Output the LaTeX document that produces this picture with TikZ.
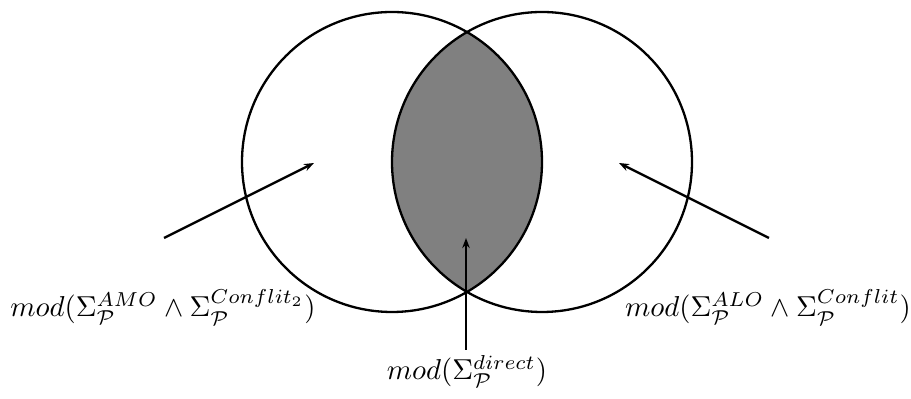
\documentclass[tikz,border=0pt]{standalone}
\usepackage{amsmath, amssymb}
\usetikzlibrary{arrows.meta}
\begin{document}
\begin{tikzpicture}[x=0.0122cm, y=-0.0122cm, thick,
    pointer/.style={-{Stealth[length=3.5pt,width=2.6pt]}}]
        \useasboundingbox (0,0) rectangle (911,399);
        % Shaded intersection
        \begin{scope}
          \clip (392,162) circle (150);
          \fill[gray] (542,162) circle (150);
        \end{scope}
        \draw (392,162) circle (150);
        \draw (542,162) circle (150);

        % Labels
        \node[anchor=base] (amo) at (163,317) {$mod(\Sigma_{\mathcal{P}}^{AMO} \wedge \Sigma_{\mathcal{P}}^{Conflit_2})$};
        \node[anchor=base] (alo) at (768,317) {$mod(\Sigma_{\mathcal{P}}^{ALO} \wedge \Sigma_{\mathcal{P}}^{Conflit})$};
        \node[anchor=base] (direct) at (467,380) {$mod(\Sigma_{\mathcal{P}}^{direct})$};

        % Arrows
        \coordinate (amofrom) at (164,238);
        \coordinate (amoto) at (314,163);
        \coordinate (alofrom) at (769,238);
        \coordinate (aloto) at (619,163);
        \coordinate (directfrom) at (466,350);
        \coordinate (directto) at (466,238);
        \draw[pointer] (amofrom) -- (amoto);
        \draw[pointer] (alofrom) -- (aloto);
        \draw[pointer] (directfrom) -- (directto);
      \end{tikzpicture}
\end{document}
